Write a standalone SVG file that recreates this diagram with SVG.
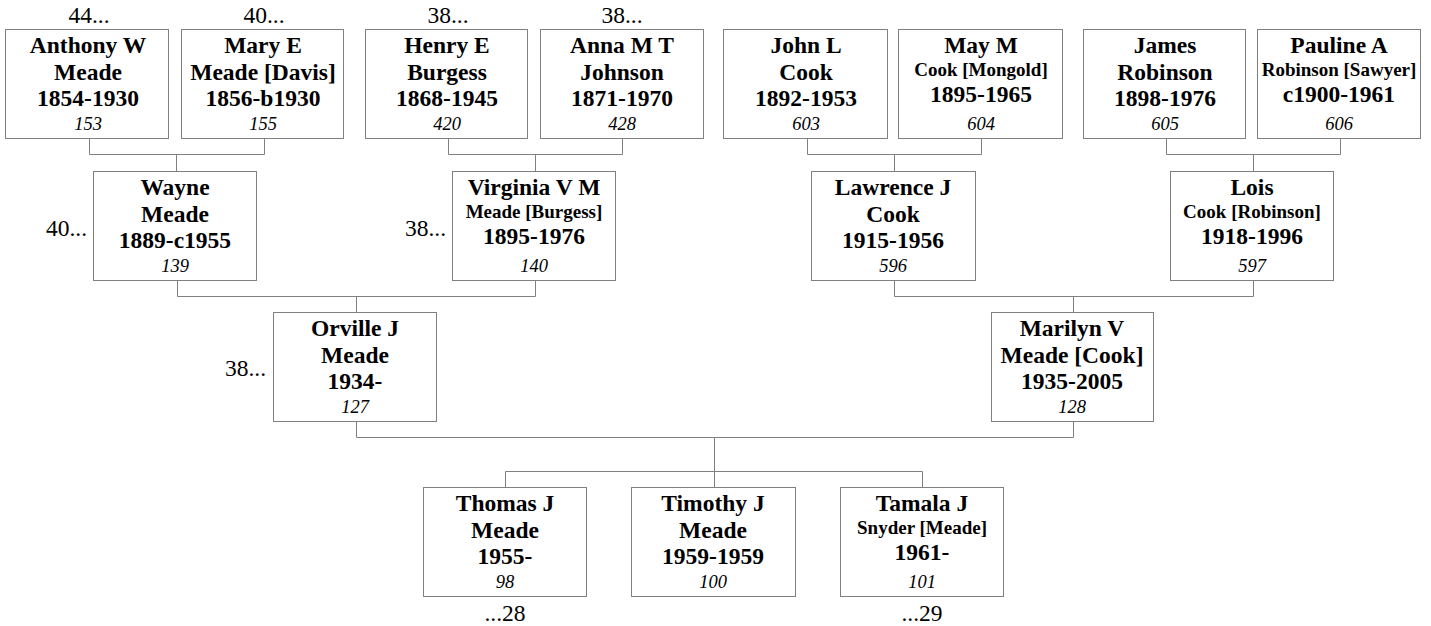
<svg xmlns="http://www.w3.org/2000/svg" width="1431" height="626" viewBox="0 0 1431 626">
<style>
.box{fill:#fff;stroke:#808080;stroke-width:1}
.ln{fill:none;stroke:#808080;stroke-width:1}
.n{font-family:"Liberation Serif","Times New Roman",serif;font-weight:bold;font-size:23.5px;text-anchor:middle;fill:#000}
.s{font-family:"Liberation Serif","Times New Roman",serif;font-weight:bold;font-size:19px;text-anchor:middle;fill:#000}
.i{font-family:"Liberation Serif","Times New Roman",serif;font-style:italic;font-size:18.5px;text-anchor:middle;fill:#000}
.l{font-family:"Liberation Serif","Times New Roman",serif;font-size:23.5px;fill:#000}
</style>
<rect width="1431" height="626" fill="#fff"/>
<g id="connectors">
<path class="ln" d="M89.5,138 V154.5 H264.5 V138 M176.5,154.5 V171"/>
<path class="ln" d="M448.5,138 V154.5 H622.5 V138 M535.5,154.5 V171"/>
<path class="ln" d="M807.5,138 V154.5 H981.5 V138 M894.5,154.5 V171"/>
<path class="ln" d="M1166.5,138 V154.5 H1340.5 V138 M1253.5,154.5 V171"/>
<path class="ln" d="M177.5,280 V296.5 H535.5 V280 M356.5,296.5 V312"/>
<path class="ln" d="M894.5,280 V296.5 H1253.5 V280 M1073.5,296.5 V312"/>
<path class="ln" d="M356.5,421 V437.5 H1073.5 V421 M714.5,437.5 V487"/>
<path class="ln" d="M505.5,487 V471.5 H922.5 V487"/>
</g>
<g id="labels">
<text class="l" x="89" y="23" text-anchor="middle">44...</text>
<text class="l" x="264" y="23" text-anchor="middle">40...</text>
<text class="l" x="448" y="23" text-anchor="middle">38...</text>
<text class="l" x="622" y="23" text-anchor="middle">38...</text>
<text class="l" x="87" y="236" text-anchor="end">40...</text>
<text class="l" x="446" y="236" text-anchor="end">38...</text>
<text class="l" x="266" y="376" text-anchor="end">38...</text>
<text class="l" x="505" y="621" text-anchor="middle">...28</text>
<text class="l" x="922" y="621" text-anchor="middle">...29</text>
</g>
<g id="anthony">
<rect class="box" x="5.5" y="29.5" width="163" height="109"/>
<text class="n" x="88" y="53">Anthony W</text>
<text class="n" x="88" y="80">Meade</text>
<text class="n" x="88" y="106">1854-1930</text>
<text class="i" x="88" y="130">153</text>
</g>
<g id="mary">
<rect class="box" x="181.5" y="29.5" width="162" height="109"/>
<text class="n" x="263" y="53">Mary E</text>
<text class="n" x="263" y="80">Meade [Davis]</text>
<text class="n" x="263" y="106">1856-b1930</text>
<text class="i" x="263" y="130">155</text>
</g>
<g id="henry">
<rect class="box" x="365.5" y="29.5" width="162" height="109"/>
<text class="n" x="447" y="53">Henry E</text>
<text class="n" x="447" y="80">Burgess</text>
<text class="n" x="447" y="106">1868-1945</text>
<text class="i" x="447" y="130">420</text>
</g>
<g id="anna">
<rect class="box" x="540.5" y="29.5" width="163" height="109"/>
<text class="n" x="622" y="53">Anna M T</text>
<text class="n" x="622" y="80">Johnson</text>
<text class="n" x="622" y="106">1871-1970</text>
<text class="i" x="622" y="130">428</text>
</g>
<g id="john">
<rect class="box" x="723.5" y="29.5" width="164" height="109"/>
<text class="n" x="806" y="53">John L</text>
<text class="n" x="806" y="80">Cook</text>
<text class="n" x="806" y="106">1892-1953</text>
<text class="i" x="806" y="130">603</text>
</g>
<g id="may">
<rect class="box" x="898.5" y="29.5" width="164" height="109"/>
<text class="n" x="981" y="53">May M</text>
<text class="s" x="981" y="76">Cook [Mongold]</text>
<text class="n" x="981" y="102">1895-1965</text>
<text class="i" x="981" y="130">604</text>
</g>
<g id="james">
<rect class="box" x="1083.5" y="29.5" width="162" height="109"/>
<text class="n" x="1165" y="53">James</text>
<text class="n" x="1165" y="80">Robinson</text>
<text class="n" x="1165" y="106">1898-1976</text>
<text class="i" x="1165" y="130">605</text>
</g>
<g id="pauline">
<rect class="box" x="1257.5" y="29.5" width="163" height="109"/>
<text class="n" x="1339" y="53">Pauline A</text>
<text class="s" x="1339" y="76">Robinson [Sawyer]</text>
<text class="n" x="1339" y="102">c1900-1961</text>
<text class="i" x="1339" y="130">606</text>
</g>
<g id="wayne">
<rect class="box" x="93.5" y="171.5" width="163" height="109"/>
<text class="n" x="175" y="195">Wayne</text>
<text class="n" x="175" y="222">Meade</text>
<text class="n" x="175" y="248">1889-c1955</text>
<text class="i" x="175" y="272">139</text>
</g>
<g id="virginia">
<rect class="box" x="452.5" y="171.5" width="163" height="109"/>
<text class="n" x="534" y="195">Virginia V M</text>
<text class="s" x="534" y="218">Meade [Burgess]</text>
<text class="n" x="534" y="244">1895-1976</text>
<text class="i" x="534" y="272">140</text>
</g>
<g id="lawrence">
<rect class="box" x="811.5" y="171.5" width="164" height="109"/>
<text class="n" x="893" y="195">Lawrence J</text>
<text class="n" x="893" y="222">Cook</text>
<text class="n" x="893" y="248">1915-1956</text>
<text class="i" x="893" y="272">596</text>
</g>
<g id="lois">
<rect class="box" x="1170.5" y="171.5" width="163" height="109"/>
<text class="n" x="1252" y="195">Lois</text>
<text class="s" x="1252" y="218">Cook [Robinson]</text>
<text class="n" x="1252" y="244">1918-1996</text>
<text class="i" x="1252" y="272">597</text>
</g>
<g id="orville">
<rect class="box" x="273.5" y="312.5" width="163" height="109"/>
<text class="n" x="355" y="336">Orville J</text>
<text class="n" x="355" y="363">Meade</text>
<text class="n" x="355" y="389">1934-</text>
<text class="i" x="355" y="413">127</text>
</g>
<g id="marilyn">
<rect class="box" x="991.5" y="312.5" width="162" height="109"/>
<text class="n" x="1072" y="336">Marilyn V</text>
<text class="n" x="1072" y="363">Meade [Cook]</text>
<text class="n" x="1072" y="389">1935-2005</text>
<text class="i" x="1072" y="413">128</text>
</g>
<g id="thomas">
<rect class="box" x="423.5" y="487.5" width="163" height="109"/>
<text class="n" x="505" y="511">Thomas J</text>
<text class="n" x="505" y="538">Meade</text>
<text class="n" x="505" y="564">1955-</text>
<text class="i" x="505" y="588">98</text>
</g>
<g id="timothy">
<rect class="box" x="631.5" y="487.5" width="164" height="109"/>
<text class="n" x="713" y="511">Timothy J</text>
<text class="n" x="713" y="538">Meade</text>
<text class="n" x="713" y="564">1959-1959</text>
<text class="i" x="713" y="588">100</text>
</g>
<g id="tamala">
<rect class="box" x="840.5" y="487.5" width="163" height="109"/>
<text class="n" x="922" y="511">Tamala J</text>
<text class="s" x="922" y="534">Snyder [Meade]</text>
<text class="n" x="922" y="560">1961-</text>
<text class="i" x="922" y="588">101</text>
</g>
</svg>
